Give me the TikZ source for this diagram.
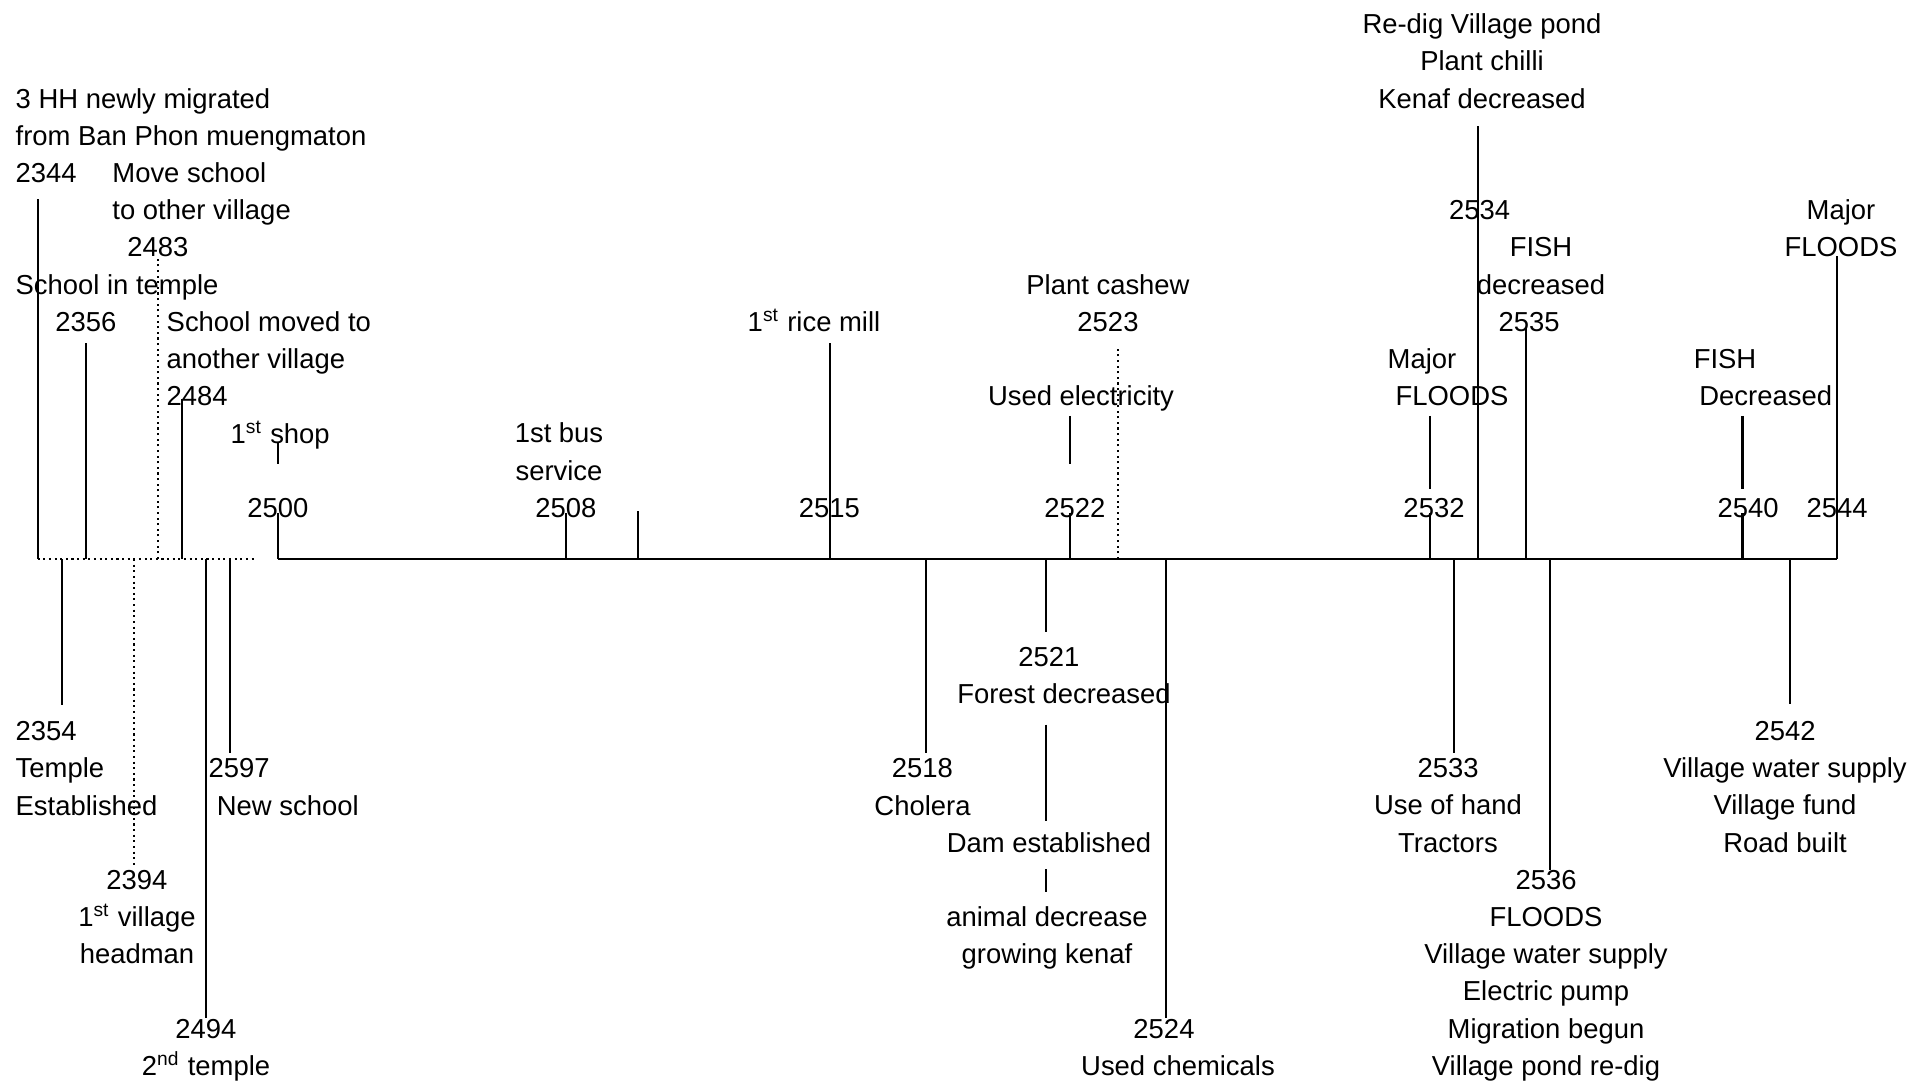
\documentclass[tikz,border=0pt]{standalone}
\usepackage{fontspec}
\setmainfont{Liberation Sans}

\begin{document}
\begin{tikzpicture}[
  x=0.01cm, y=-0.01cm,
  every node/.append style={inner sep=0pt, font=\fontsize{7.8pt}{10.58pt}\selectfont},
  lbl/.style={anchor=base, align=center},
  lbll/.style={anchor=base west, align=left},
  stick/.style={line width=0.6pt},
  dotstick/.style={line width=0.6pt, densely dotted},
  endgap/.style={shorten >=#1},
  pierce/.style={shorten >=-1.3pt}]

\useasboundingbox (0,0) rectangle (1908,1082);

% time axis
\coordinate (t2344) at (37.7,559);
\coordinate (axLend) at (255,559);
\coordinate (t2500) at (277.7,559);
\coordinate (t2544) at (1837.4,559);

% ticks above the axis
\coordinate (t2356) at (86,559);
\coordinate (t2483) at (157.7,559);
\coordinate (t2484) at (181.7,559);
\coordinate (t2508) at (566,559);
\coordinate (tplain) at (637.6,559);
\coordinate (eplain) at (637.6,511);
\coordinate (t2515) at (830,559);
\coordinate (t2522) at (1070.3,559);
\coordinate (t2523) at (1118,559);
\coordinate (t2532) at (1429.8,559);
\coordinate (t2534) at (1478.3,559);
\coordinate (t2535) at (1526,559);
\coordinate (t2540) at (1742.5,559);

% ticks below the axis
\coordinate (t2354) at (61.7,559);
\coordinate (t2394) at (134,559);
\coordinate (t2494) at (206,559);
\coordinate (t2597) at (230,559);
\coordinate (t2518) at (926.3,559);
\coordinate (t2521) at (1046,559);
\coordinate (t2524) at (1166,559);
\coordinate (t2533) at (1454,559);
\coordinate (t2536) at (1550,559);
\coordinate (t2542) at (1790.3,559);

% labels above (y = baseline of the last line)
\node[lbll] (n2344) at (15,182.6) {3 HH newly migrated\\from Ban Phon muengmaton\\2344};
\node[lbll] (mvschool) at (111.7,219.8) {Move school\\to other village};
\node[lbl] (y2483) at (158,257) {2483};
\node[lbll] (intemple) at (15,294.2) {School in temple};
\node[lbl] (y2356) at (86,331.4) {2356};
\node[lbll] (n2484) at (166,405.8) {School moved to\\another village\\2484};
\node[lbll] (shop) at (230,443) {1\textsuperscript{st} shop};
\node[lbl] (y2500) at (278,517.4) {2500};
\node[lbl] (bus) at (559,480.2) {1st bus\\service};
\node[lbl] (y2508) at (566,517.4) {2508};
\node[lbl] (mill) at (814,331.4) {1\textsuperscript{st} rice mill};
\node[lbl] (y2515) at (829.5,517.4) {2515};
\node[lbl] (cashew) at (1108,331.4) {Plant cashew\\2523};
\node[lbl] (elec) at (1081,405.8) {Used electricity};
\node[lbl] (y2522) at (1075,517.4) {2522};
\node[lbl] (pond) at (1482,108.2) {Re-dig Village pond\\Plant chilli\\Kenaf decreased};
\node[lbl] (y2534) at (1479.6,219.8) {2534};
\node[lbl] (fish1) at (1541,294.2) {FISH\\decreased};
\node[lbl] (y2535) at (1529,331.4) {2535};
\node[lbl] (major1) at (1422,368.6) {Major};
\node[lbl] (floods1) at (1452,405.8) {FLOODS};
\node[lbl] (y2532) at (1434,517.4) {2532};
\node[lbl] (fish2) at (1725,368.6) {FISH};
\node[lbl] (decr2) at (1765.7,405.8) {Decreased};
\node[lbl] (y2540) at (1748,517.4) {2540};
\node[lbl] (major2) at (1841,257) {Major\\FLOODS};
\node[lbl] (y2544) at (1837,517.4) {2544};

% labels below
\node[lbll] (n2354) at (15,815) {2354\\Temple\\Established};
\node[lbl] (n2394) at (137,963.8) {2394\\1\textsuperscript{st} village\\headman};
\node[lbl] (n2494) at (206,1075.4) {2494\\2\textsuperscript{nd} temple};
\node[lbll] (n2597) at (208,815) {2597\\\hspace*{0.3em}New school};
\node[lbl] (n2518) at (922.5,815) {2518\\Cholera};
\node[lbl] (y2521) at (1049,666.2) {2521};
\node[lbl] (forest) at (1064,703.4) {Forest decreased};
\node[lbl] (dam) at (1049,852.2) {Dam established};
\node[lbl] (animal) at (1047,963.8) {animal decrease\\growing kenaf};
\node[lbl] (y2524) at (1164,1038.2) {2524};
\node[lbl] (chem) at (1178,1075.4) {Used chemicals};
\node[lbl] (n2533) at (1448,852.2) {2533\\Use of hand\\Tractors};
\node[lbl] (n2536) at (1546,1075.4) {2536\\FLOODS\\Village water supply\\Electric pump\\Migration begun\\Village pond re-dig};
\node[lbl] (n2542) at (1785,852.2) {2542\\Village water supply\\Village fund\\Road built};

% axis
\draw[dotstick] (t2344) -- (axLend);
\draw[stick] (t2500) -- (t2544);

% sticks above
\draw[stick, endgap=4.5pt] (t2344) -- (t2344 |- n2344.south);
\draw[dotstick] (t2483) -- (t2483 |- y2483.base);
\draw[stick, endgap=3.3pt] (t2356) -- (t2356 |- y2356.base);
\draw[stick, shorten >=-2.2pt] (t2484) -- (t2484 |- n2484.south);
\draw[stick, endgap=9.6pt] (shop.base -| t2500) -- (y2500.north -| t2500);
\draw[stick, pierce] (t2500) -- (t2500 |- y2500.base);
\draw[stick, pierce] (t2508) -- (t2508 |- y2508.base);
\draw[stick] (tplain) -- (eplain);
\draw[stick, endgap=3.3pt] (t2515) -- (t2515 |- mill.base);
\draw[dotstick, endgap=4.4pt] (t2523) -- (t2523 |- cashew.south);
\draw[stick, shorten <=2.9pt, endgap=9.6pt] (elec.base -| t2522) -- (y2522.north -| t2522);
\draw[stick, pierce] (t2522) -- (t2522 |- y2522.base);
\draw[stick, endgap=4.8pt] (t2534) -- (t2534 |- pond.south);
\draw[stick, pierce] (t2535) -- (t2535 |- y2535.base);
\draw[stick, shorten <=2.9pt, endgap=2.5pt] (floods1.base -| t2532) -- (y2532.north -| t2532);
\draw[stick, pierce] (t2532) -- (t2532 |- y2532.base);
\draw[stick, shorten <=2.9pt, endgap=2.5pt] (decr2.base -| t2540) -- (y2540.north -| t2540);
\draw[stick, pierce] (t2540) -- (t2540 |- y2540.base);
\draw[stick, shorten >=-0.5pt] (t2544) -- (t2544 |- major2.south);

% sticks below
\draw[stick, endgap=4.5pt] (t2354) -- (t2354 |- n2354.north);
\draw[dotstick, endgap=1pt] (t2394) -- (t2394 |- n2394.north);
\draw[stick] (t2494) -- (t2494 |- n2494.north);
\draw[stick, endgap=1.4pt] (t2597) -- (t2597 |- n2597.north);
\draw[stick, endgap=1.4pt] (t2518) -- (t2518 |- n2518.north);
\draw[stick, endgap=4.2pt] (t2521) -- (t2521 |- y2521.north);
\draw[stick, shorten <=6pt, endgap=3pt] (forest.base -| t2521) -- (dam.north -| t2521);
\draw[stick, shorten <=4.8pt, endgap=3.9pt] (dam.base -| t2521) -- (animal.north -| t2521);
\draw[stick] (t2524) -- (t2524 |- y2524.north);
\draw[stick, endgap=1.4pt] (t2533) -- (t2533 |- n2533.north);
\draw[stick] (t2536) -- (t2536 |- n2536.north);
\draw[stick, endgap=4.8pt] (t2542) -- (t2542 |- n2542.north);

\end{tikzpicture}
\end{document}
